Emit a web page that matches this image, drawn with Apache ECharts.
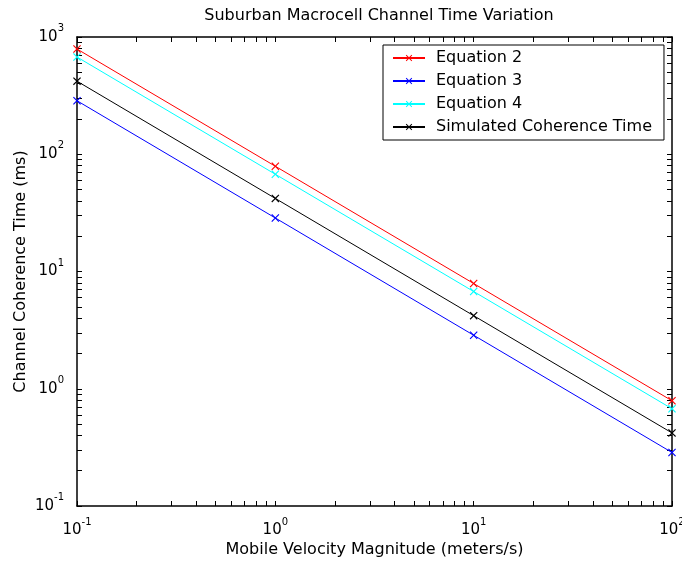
<!DOCTYPE html>
<html>
<head>
<meta charset="utf-8">
<script src="https://cdn.jsdelivr.net/npm/echarts@6/dist/echarts.min.js"></script>
<style>
html,body{margin:0;padding:0;background:#fff;}
#chart{width:682px;height:563px;}
</style>
</head>
<body>
<div id="chart"></div>
<script>
// ---- data ----
const velocities = [0.1, 1, 10, 100];
const eq2 = [790, 79, 7.9, 0.79];
const eq3 = [286, 28.6, 2.86, 0.286];
const eq4 = [675, 67.5, 6.75, 0.675];
const simulated = [420, 42, 4.2, 0.42];
const seriesNames = ['Equation 2', 'Equation 3', 'Equation 4', 'Simulated Coherence Time'];
const seriesColors = ['#ff0000', '#0000ff', '#00ffff', '#000000'];

const xLabelValues = [0.1, 1, 10, 100];
const yLabelValues = [0.1, 1, 10, 100, 1000];
const xTickValues = [0.1,0.2,0.3,0.4,0.5,0.6,0.7,0.8,0.9,
  1,2,3,4,5,6,7,8,9,
  10,20,30,40,50,60,70,80,90,100];
const yTickValues = [0.1,0.2,0.3,0.4,0.5,0.6,0.7,0.8,0.9,
  1,2,3,4,5,6,7,8,9,
  10,20,30,40,50,60,70,80,90,
  100,200,300,400,500,600,700,800,900,1000];

const FONT = '"DejaVu Sans", sans-serif';
const X_SYMBOL = 'path://M0,1L1,0L5,4L9,0L10,1L6,5L10,9L9,10L5,6L1,10L0,9L4,5Z';

function powLabel(v) {
  const e = Math.round(Math.log10(v));
  return '{b|10}{s|' + e + '}';
}
const rich = {
  b: {fontSize: 15, fontFamily: FONT, color: '#000', padding: [6, 0, 6, 0]},
  s: {fontSize: 10, fontFamily: FONT, color: '#000', verticalAlign: 'top'}
};

const lineStyleAxis = {color: '#000', width: 1.5};

function makeAxis(base, showLabels, ticks, labels, margin) {
  return Object.assign({
    type: 'log',
    logBase: 10,
    nameMoveOverlap: false,
    axisLine: {show: true, onZero: false, lineStyle: lineStyleAxis},
    axisTick: {show: true, inside: true, length: 5, customValues: ticks, lineStyle: {color: '#000', width: 1}},
    axisLabel: showLabels ? {
      show: true, customValues: labels, formatter: powLabel, rich: rich, margin: margin,
      showMinLabel: true, showMaxLabel: true, hideOverlap: false
    } : {show: false},
    splitLine: {show: false},
    minorTick: {show: false}
  }, base);
}

const allData = [eq2, eq3, eq4, simulated];
const series = allData.map((arr, i) => ({
  name: seriesNames[i],
  type: 'line',
  data: velocities.map((v, j) => [v, arr[j]]),
  xAxisIndex: 0,
  yAxisIndex: 0,
  symbol: X_SYMBOL,
  symbolSize: 8,
  showSymbol: true,
  lineStyle: {color: seriesColors[i], width: 1},
  itemStyle: {color: seriesColors[i]},
  emphasis: {disabled: true}
}));

const chart = echarts.init(document.getElementById('chart'), null, {renderer: 'canvas'});
chart.setOption({
  animation: false,
  backgroundColor: '#ffffff',
  title: {
    text: 'Suburban Macrocell Channel Time Variation',
    left: 374, top: 3, textAlign: 'center',
    textStyle: {fontSize: 16, fontWeight: 'normal', fontFamily: FONT, color: '#000'}
  },
  grid: {left: 77, right: 10, top: 37, bottom: 57, containLabel: false, outerBoundsMode: 'none'},
  legend: {
    left: 383, top: 45,
    orient: 'vertical',
    itemWidth: 32, itemHeight: 8, itemGap: 7,
    padding: [5, 12, 5, 9],
    backgroundColor: '#fff',
    borderColor: '#000', borderWidth: 1, borderRadius: 0,
    textStyle: {fontSize: 16, fontFamily: FONT, color: '#000', padding: [0, 0, 0, 6]},
    data: seriesNames
  },
  xAxis: [
    makeAxis({position: 'bottom', min: 0.1, max: 100,
      name: 'Mobile Velocity Magnitude (meters/s)', nameLocation: 'middle', nameGap: 36,
      nameTextStyle: {fontSize: 16, fontFamily: FONT, color: '#000'}}, true, xTickValues, xLabelValues, 11),
    makeAxis({position: 'top', min: 0.1, max: 100}, false, xTickValues, xLabelValues, 8)
  ],
  yAxis: [
    makeAxis({position: 'left', min: 0.1, max: 1000,
      name: 'Channel Coherence Time (ms)', nameLocation: 'middle', nameGap: 48,
      nameTextStyle: {fontSize: 16, fontFamily: FONT, color: '#000'}}, true, yTickValues, yLabelValues, 13),
    makeAxis({position: 'right', min: 0.1, max: 1000}, false, yTickValues, yLabelValues, 8)
  ],
  series: series
});
</script>
</body>
</html>
